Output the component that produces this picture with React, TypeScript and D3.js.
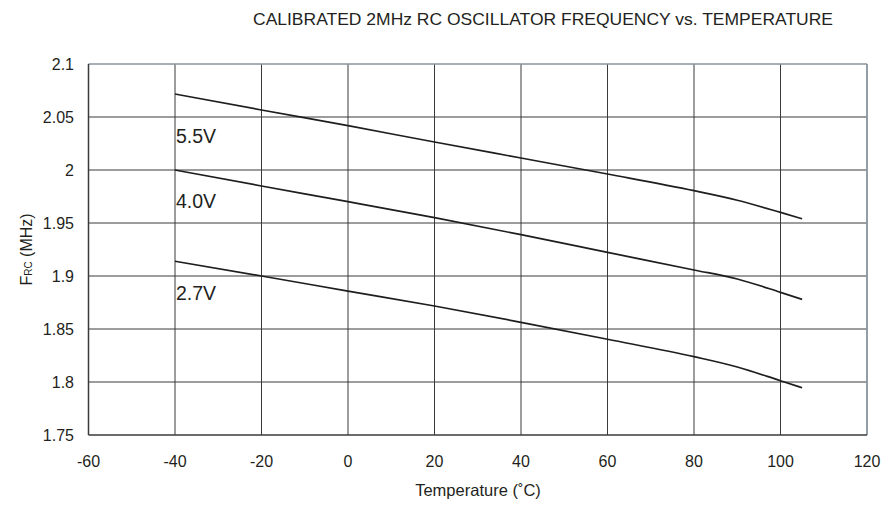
import React from "react";
import * as d3 from "d3";

const temps = [-40, -20, 0, 20, 40, 60, 80, 90, 100, 105];
const v55 = [2.0717, 2.0566, 2.0418, 2.0264, 2.0113, 1.9962, 1.9805, 1.9715, 1.960, 1.954];
const v40 = [2.0, 1.9849, 1.9701, 1.955, 1.939, 1.9223, 1.9057, 1.8972, 1.8846, 1.878];
const v27 = [1.9139, 1.9, 1.8858, 1.8717, 1.8563, 1.8403, 1.8239, 1.8142, 1.8012, 1.7946];
const seriesNames = ["5.5V", "4.0V", "2.7V"];
const labelY = [2.0255, 1.9642, 1.8774];
const xTicks = [-60, -40, -20, 0, 20, 40, 60, 80, 100, 120];
const yTicks = [1.75, 1.8, 1.85, 1.9, 1.95, 2, 2.05, 2.1];

const W = 885, H = 506;
const L = 88.5, R = 867, T = 64, B = 435;

export default function App() {
  const x = d3.scaleLinear().domain([-60, 120]).range([L, R]);
  const y = d3.scaleLinear().domain([1.75, 2.1]).range([B, T]);
  const lineGen = d3.line<[number, number]>().x(d => x(d[0])).y(d => y(d[1])).curve(d3.curveMonotoneX);
  const series = [v55, v40, v27];
  const font = "Liberation Sans, Arial, Helvetica, sans-serif";
  const txt = "#231f20";
  return (
    <svg width={W} height={H} style={{ position: "absolute", left: 0, top: 0, background: "#fff" }} fontFamily={font}>
      <text x={543} y={25} textAnchor="middle" fontSize={17} textLength={580} lengthAdjust="spacingAndGlyphs" fill={txt}>CALIBRATED 2MHz RC OSCILLATOR FREQUENCY vs. TEMPERATURE</text>
      {xTicks.slice(1, -1).map(t => (
        <line key={"gx" + t} x1={x(t)} x2={x(t)} y1={T} y2={B} stroke="#3a3a3a" strokeWidth={1} />
      ))}
      {yTicks.slice(1, -1).map(t => (
        <line key={"gy" + t} x1={L} x2={R} y1={y(t)} y2={y(t)} stroke="#3a3a3a" strokeWidth={1} />
      ))}
      <line x1={L} x2={R} y1={T} y2={T} stroke="#8a939c" strokeWidth={1.5} />
      <line x1={R} x2={R} y1={T} y2={B} stroke="#8a939c" strokeWidth={1.8} />
      <line x1={L} x2={R} y1={B} y2={B} stroke="#3a3a3a" strokeWidth={1.5} />
      <line x1={L} x2={L} y1={T} y2={B} stroke="#3a3a3a" strokeWidth={1.5} />
      {series.map((vals, i) => (
        <path key={"s" + i} d={lineGen(temps.map((t, j) => [t, vals[j]] as [number, number])) || ""} fill="none" stroke="#1e1e1e" strokeWidth={1.7} />
      ))}
      {seriesNames.map((n, i) => (
        <text key={"l" + i} x={x(-40) + 1} y={y(labelY[i])} fontSize={19.5} fill={txt}>{n}</text>
      ))}
      {xTicks.map(t => (
        <text key={"xt" + t} x={x(t)} y={467} textAnchor="middle" fontSize={16} fill={txt}>{t}</text>
      ))}
      {yTicks.map(t => (
        <text key={"yt" + t} x={74} y={y(t) + 5.5} textAnchor="end" fontSize={16} fill={txt}>{t}</text>
      ))}
      <text x={478} y={496} textAnchor="middle" fontSize={16.5} fill={txt}>Temperature (˚C)</text>
      <text transform={`translate(31.5, ${(T + B) / 2}) rotate(-90)`} textAnchor="middle" fontSize={16} fill={txt}>
        F<tspan fontSize={10}>RC</tspan> (MHz)
      </text>
    </svg>
  );
}
